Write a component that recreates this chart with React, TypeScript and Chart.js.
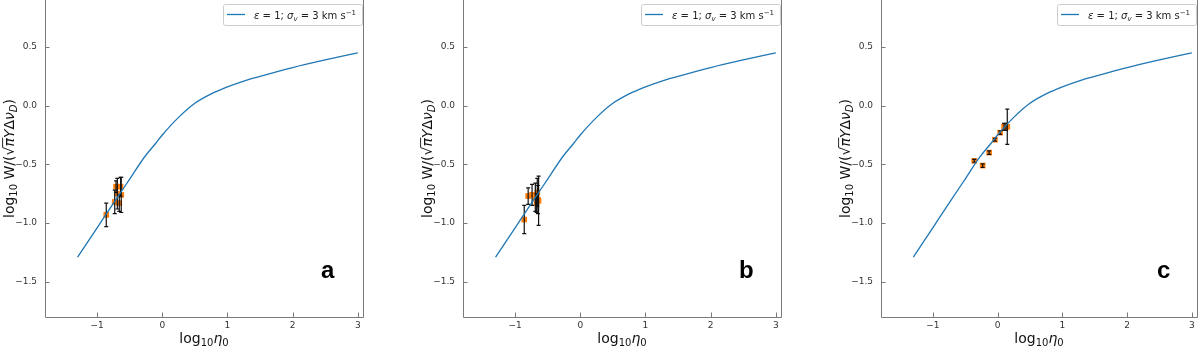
import React, { useEffect, useRef } from 'react';
import { Chart, registerables } from 'chart.js';
Chart.register(...registerables);

// Model curve (epsilon = 1, sigma_v = 3 km/s)
const curveX = [-1.3, -1.0, -0.7, -0.5, -0.27, -0.1, 0.0, 0.25, 0.5, 0.75, 1.0, 1.25, 1.5, 2.0, 2.5, 3.0];
const curveY = [-1.29, -1.04, -0.79, -0.625, -0.435, -0.32, -0.25, -0.1, 0.02, 0.1, 0.16, 0.21, 0.25, 0.325, 0.39, 0.45];

// Panel a measurements
const aX = [-0.86, -0.73, -0.71, -0.69, -0.66, -0.64, -0.63];
const aY = [-0.93, -0.82, -0.69, -0.75, -0.83, -0.69, -0.76];
const aErr = [0.1, 0.1, 0.05, 0.13, 0.07, 0.08, 0.15];

// Panel b measurements
const bX = [-0.86, -0.8, -0.74, -0.69, -0.67, -0.66, -0.65, -0.64];
const bY = [-0.97, -0.77, -0.76, -0.78, -0.83, -0.74, -0.8, -0.81];
const bErr = [0.12, 0.07, 0.09, 0.12, 0.08, 0.12, 0.12, 0.21];

// Panel c measurements
const cX = [-0.36, -0.23, -0.13, -0.04, 0.04, 0.1, 0.13, 0.15];
const cY = [-0.47, -0.51, -0.4, -0.29, -0.23, -0.18, -0.18, -0.18];
const cErr = [0.012, 0.015, 0.015, 0.012, 0.015, 0.03, 0.03, 0.15];

const xTickValues = [-1, 0, 1, 2, 3];
const xTickLabels = ['−1', '0', '1', '2', '3'];
const yTickValues = [-1.5, -1.0, -0.5, 0.0, 0.5];
const yTickLabels = ['−1.5', '−1.0', '−0.5', '0.0', '0.5'];
const panelLetters = ['a', 'b', 'c'];
const legendLabel = 'ε = 1; σv = 3 km s−1';

type Seg = { t: string; size: number; italic?: boolean; dy?: number; over?: boolean };

const FONT = '"DejaVu Sans"';

function fontFor(s: Seg) {
  return `${s.italic ? 'italic ' : ''}${s.size}px ${FONT}`;
}

function drawRich(ctx: CanvasRenderingContext2D, segs: Seg[], x: number, y: number, align: 'left' | 'center', color: string) {
  let total = 0;
  const widths = segs.map((s) => {
    ctx.font = fontFor(s);
    const w = ctx.measureText(s.t).width;
    total += w;
    return w;
  });
  let cx = align === 'center' ? x - total / 2 : x;
  ctx.fillStyle = color;
  ctx.strokeStyle = color;
  ctx.textAlign = 'left';
  ctx.textBaseline = 'alphabetic';
  segs.forEach((s, i) => {
    ctx.font = fontFor(s);
    ctx.fillText(s.t, cx, y + (s.dy || 0));
    if (s.over) {
      ctx.lineWidth = 0.9;
      ctx.beginPath();
      const oy = y - s.size * 0.78;
      ctx.moveTo(cx - 0.5, oy);
      ctx.lineTo(cx + widths[i] + 0.5, oy);
      ctx.stroke();
    }
    cx += widths[i];
  });
}

const yTitle: Seg[] = [
  { t: 'log', size: 14 },
  { t: '10', size: 10, dy: 3 },
  { t: ' W/(', size: 14 },
  { t: '√', size: 14 },
  { t: 'π', size: 14, italic: true, over: true },
  { t: 'Y', size: 14, italic: true },
  { t: 'Δ', size: 14 },
  { t: 'ν', size: 14, italic: true },
  { t: 'D', size: 10, italic: true, dy: 3 },
  { t: ')', size: 14 },
];

const xTitle: Seg[] = [
  { t: 'log', size: 14 },
  { t: '10', size: 10, dy: 3 },
  { t: 'η', size: 14, italic: true },
  { t: '0', size: 10, dy: 3 },
];

const legendSegs: Seg[] = [
  { t: 'ε', size: 10, italic: true },
  { t: ' = 1; ', size: 10 },
  { t: 'σ', size: 10, italic: true },
  { t: 'v', size: 7, italic: true, dy: 2 },
  { t: ' = 3 km s', size: 10 },
  { t: '−1', size: 7, dy: -4 },
];

const panels = [
  { xs: aX, ys: aY, errs: aErr, left: 0, width: 365 },
  { xs: bX, ys: bY, errs: bErr, left: 418, width: 365 },
  { xs: cX, ys: cY, errs: cErr, left: 836, width: 363 },
];

function Panel({ idx }: { idx: number }) {
  const ref = useRef<HTMLCanvasElement | null>(null);
  const p = panels[idx];
  useEffect(() => {
    const canvas = ref.current!;
    const letter = panelLetters[idx];
    const plugin = {
      id: 'decor' + idx,
      afterDatasetDraw(chart: any, args: any) {
        if (args.index !== 1) return;
        const ctx = chart.ctx as CanvasRenderingContext2D;
        const xs = chart.scales.x;
        const ys = chart.scales.y;
        ctx.save();
        ctx.strokeStyle = '#111';
        ctx.lineWidth = 1.2;
        p.xs.forEach((xv, i) => {
          const px = xs.getPixelForValue(xv);
          const pt = ys.getPixelForValue(p.ys[i] + p.errs[i]);
          const pb = ys.getPixelForValue(p.ys[i] - p.errs[i]);
          ctx.beginPath();
          ctx.moveTo(px, pt);
          ctx.lineTo(px, pb);
          ctx.moveTo(px - 2, pt);
          ctx.lineTo(px + 2, pt);
          ctx.moveTo(px - 2, pb);
          ctx.lineTo(px + 2, pb);
          ctx.stroke();
        });
        ctx.restore();
      },
      afterDraw(chart: any) {
        const ctx = chart.ctx as CanvasRenderingContext2D;
        const { left, right, top, bottom } = chart.chartArea;
        const xs = chart.scales.x;
        const ys = chart.scales.y;
        ctx.save();
        // spines
        ctx.strokeStyle = '#7a7a7a';
        ctx.lineWidth = 1;
        ctx.beginPath();
        ctx.moveTo(left + 0.5, top);
        ctx.lineTo(left + 0.5, bottom + 0.5);
        ctx.lineTo(right + 0.5, bottom + 0.5);
        ctx.lineTo(right + 0.5, top);
        ctx.stroke();
        // inward ticks
        ctx.beginPath();
        xTickValues.forEach((v) => {
          const px = Math.round(xs.getPixelForValue(v)) + 0.5;
          ctx.moveTo(px, bottom);
          ctx.lineTo(px, bottom - 4.5);
        });
        yTickValues.forEach((v) => {
          const py = Math.round(ys.getPixelForValue(v)) + 0.5;
          ctx.moveTo(left, py);
          ctx.lineTo(left + 4.5, py);
        });
        ctx.stroke();

        // legend
        const bw = 139;
        const bh = 21;
        const bx = right - bw - 1;
        const by = 4;
        ctx.fillStyle = 'rgba(255,255,255,0.85)';
        ctx.strokeStyle = '#cccccc';
        ctx.lineWidth = 1;
        ctx.beginPath();
        (ctx as any).roundRect(bx + 0.5, by + 0.5, bw, bh, 2);
        ctx.fill();
        ctx.stroke();
        ctx.strokeStyle = '#1f77b4';
        ctx.lineWidth = 1.3;
        ctx.beginPath();
        ctx.moveTo(bx + 4, by + 10.5);
        ctx.lineTo(bx + 22, by + 10.5);
        ctx.stroke();
        drawRich(ctx, legendSegs, bx + 31, by + 14.5, 'left', '#222');

        // axis titles
        drawRich(ctx, xTitle, (left + right) / 2, 343, 'center', '#111');
        ctx.save();
        ctx.translate(13.5, (top + bottom) / 2);
        ctx.rotate(-Math.PI / 2);
        drawRich(ctx, yTitle, 0, 0, 'center', '#111');
        ctx.restore();

        // panel letter
        ctx.fillStyle = '#000';
        ctx.font = 'bold 24px "Liberation Sans"';
        ctx.textAlign = 'left';
        ctx.textBaseline = 'alphabetic';
        ctx.fillText(letter, left + 276, 278);
        ctx.restore();
      },
    };

    const chart = new Chart(canvas, {
      type: 'scatter',
      data: {
        datasets: [
          {
            label: legendLabel,
            data: curveX.map((x, i) => ({ x, y: curveY[i] })),
            showLine: true,
            borderColor: '#1f77b4',
            backgroundColor: '#1f77b4',
            borderWidth: 1.3,
            pointRadius: 0,
            cubicInterpolationMode: 'monotone',
            order: 0,
          } as any,
          {
            label: 'data',
            data: p.xs.map((x, i) => ({ x, y: p.ys[i] })),
            backgroundColor: '#ff7f0e',
            borderWidth: 0,
            pointStyle: 'rect',
            pointRadius: 4,
            order: 1,
          } as any,
        ],
      },
      options: {
        responsive: false,
        animation: false,
        devicePixelRatio: 1,
        layout: { autoPadding: false, padding: { left: 0, right: 2, top: 0, bottom: 0 } },
        plugins: { legend: { display: false }, tooltip: { enabled: false } },
        scales: {
          x: {
            type: 'linear',
            min: -1.8,
            max: 3.08,
            afterBuildTicks: (s: any) => {
              s.ticks = xTickValues.map((v) => ({ value: v }));
            },
            afterFit: (s: any) => {
              s.height = 30;
              s.paddingLeft = 0;
              s.paddingRight = 0;
              s.paddingTop = 0;
              s.paddingBottom = 0;
            },
            grid: { display: false, drawTicks: false },
            border: { display: false },
            ticks: {
              padding: 3,
              color: '#333',
              font: { family: 'DejaVu Sans', size: 9 },
              maxRotation: 0,
              callback: (v: any) => {
                const k = xTickValues.indexOf(Number(v));
                return k >= 0 ? xTickLabels[k] : '';
              },
            },
          },
          y: {
            type: 'linear',
            min: -1.8,
            max: 0.9,
            afterBuildTicks: (s: any) => {
              s.ticks = yTickValues.map((v) => ({ value: v }));
            },
            afterFit: (s: any) => {
              s.width = 45;
              s.paddingLeft = 0;
              s.paddingRight = 0;
              s.paddingTop = 0;
              s.paddingBottom = 0;
            },
            grid: { display: false, drawTicks: false },
            border: { display: false },
            ticks: {
              padding: 8,
              color: '#333',
              font: { family: 'DejaVu Sans', size: 9 },
              callback: (v: any) => {
                const k = yTickValues.indexOf(Number(v));
                return k >= 0 ? yTickLabels[k] : '';
              },
            },
          },
        },
      } as any,
      plugins: [plugin],
    });
    return () => chart.destroy();
  }, [idx]);
  return (
    <div style={{ position: 'absolute', left: p.left, top: 0, width: p.width, height: 347 }}>
      <canvas ref={ref} width={p.width} height={347} style={{ display: 'block' }} />
    </div>
  );
}

export default function App() {
  return (
    <div style={{ position: 'absolute', left: 0, top: 0, width: 1200, height: 347, background: '#fff', overflow: 'hidden' }}>
      <Panel idx={0} />
      <Panel idx={1} />
      <Panel idx={2} />
    </div>
  );
}
